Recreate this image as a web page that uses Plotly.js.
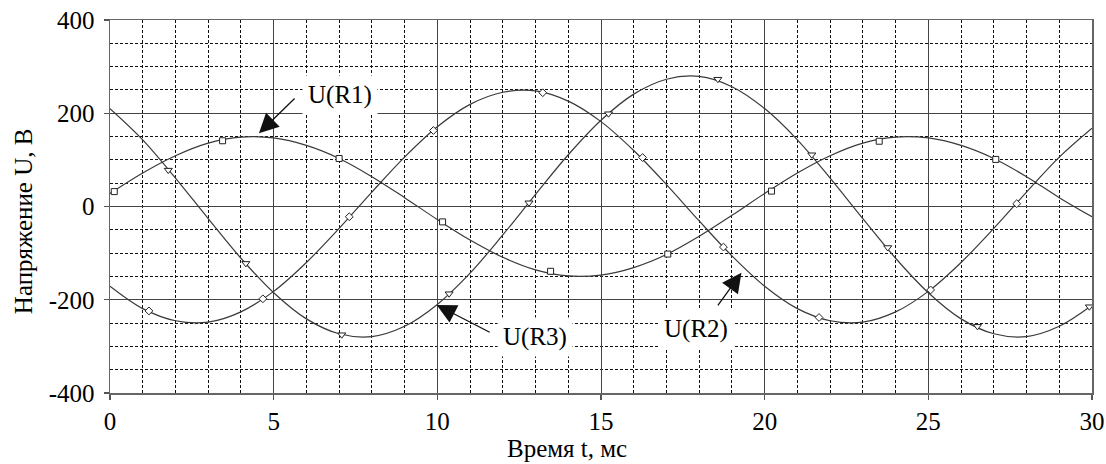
<!DOCTYPE html>
<html>
<head>
<meta charset="utf-8">
<script src="https://cdn.plot.ly/plotly-3.0.1.min.js"></script>
<style>
  html, body { margin: 0; padding: 0; background: #fff; }
  #chart { width: 1106px; height: 464px; }
</style>
</head>
<body>
<div id="chart"></div>
<script>
// time axis, ms
const timeMs = [0,1,2,3,4,5,6,7,8,9,10,11,12,13,14,15,16,17,18,19,20,21,22,23,24,25,26,27,28,29,30];

// U(R1), V (amplitude ~150)
const uR1 = [28,72,109,136,149,147,131,103,64,19,-28,-72,-109,-136,-149,-147,-131,-103,-64,-19,28,72,109,136,149,147,131,103,64,19,-22];
// U(R2), V (amplitude ~250)
const uR2 = [-171,-219,-245,-248,-226,-182,-120,-47,31,106,171,219,245,248,226,182,120,47,-31,-106,-171,-219,-245,-248,-226,-182,-120,-47,31,106,168];
// U(R3), V (amplitude ~280)
const uR3 = [210,143,61,-26,-111,-185,-241,-273,-279,-257,-210,-143,-61,26,111,185,241,273,279,257,210,143,61,-26,-111,-185,-241,-273,-279,-257,-212];

// marker positions along each curve
const mR1x = [0.13,3.44,7.0,10.16,13.46,17.04,20.21,23.5,27.06];
const mR1y = [32,141,103,-33,-139,-102,33,140,101];
const mR2x = [1.19,4.67,7.31,9.88,13.22,16.27,18.74,21.66,25.07,27.7];
const mR2y = [-224,-198,-22,163,244,105,-87,-238,-179,6];
const mR3x = [1.78,4.15,7.08,10.36,12.8,15.23,18.57,21.44,23.76,26.5,29.92];
const mR3y = [78,-122,-275,-187,8,199,273,111,-88,-257,-215];

// tick labels
const xTickVals = [0,5,10,15,20,25,30];
const xTickText = ['0','5','10','15','20','25','30'];
const yTickVals = [-400,-200,0,200,400];
const yTickText = ['-400','-200','0','200','400'];

// labels
const seriesNames = ['U(R1)','U(R2)','U(R3)'];
const xTitle = 'Время t, мс';
const yTitle = 'Напряжение U, В';

const lineColor = '#3a3a3a';
const fontFam = 'Liberation Serif';
const fs = 25;

function lineTrace(y, name) {
  return { x: timeMs, y: y, name: name, mode: 'lines', type: 'scatter',
    line: { color: lineColor, width: 1.2, shape: 'spline', smoothing: 1 }, hoverinfo: 'skip' };
}
function markerTrace(x, y, sym, size, name) {
  return { x: x, y: y, name: name, mode: 'markers', type: 'scatter',
    marker: { symbol: sym, size: size, color: '#ffffff', line: { color: '#222', width: 1 } }, hoverinfo: 'skip' };
}

const traces = [
  lineTrace(uR1, seriesNames[0]),
  lineTrace(uR2, seriesNames[1]),
  lineTrace(uR3, seriesNames[2]),
  markerTrace(mR1x, mR1y, 'square', 6, seriesNames[0]),
  markerTrace(mR2x, mR2y, 'diamond', 6, seriesNames[1]),
  markerTrace(mR3x, mR3y, 'triangle-down', 7, seriesNames[2])
];

function arrow(x, y, ax, ay) {
  return { x: x, y: y, ax: ax, ay: ay, xref: 'x', yref: 'y', axref: 'x', ayref: 'y',
    showarrow: true, arrowhead: 2, arrowsize: 3, arrowwidth: 1.3, arrowcolor: '#111',
    standoff: 0, startstandoff: 0, borderpad: 0, font: { family: fontFam, size: 10 } };
}
function label(x, y, text) {
  return { x: x, y: y, xref: 'x', yref: 'y', text: text, showarrow: false,
    bgcolor: '#ffffff', borderpad: 5, font: { family: fontFam, size: fs } };
}

const layout = {
  width: 1106, height: 464,
  margin: { l: 110, r: 14, t: 20, b: 71, pad: 0 },
  paper_bgcolor: '#ffffff', plot_bgcolor: '#ffffff',
  showlegend: false,
  font: { family: fontFam, size: fs, color: '#000000' },
  xaxis: {
    range: [0, 30], tickmode: 'array', tickvals: xTickVals, ticktext: xTickText,
    showgrid: true, gridcolor: '#444', gridwidth: 1, zeroline: false,
    showline: true, linecolor: '#666', linewidth: 1.5, mirror: true,
    ticks: 'outside', ticklen: 5, tickwidth: 1.2, tickcolor: '#555',
    ticklabelstandoff: 0,
    minor: { tickmode: 'linear', tick0: 0, dtick: 1, showgrid: true, gridcolor: '#111', gridwidth: 1, griddash: '3px,2px', ticks: '' }
  },
  yaxis: {
    range: [-400, 400], tickmode: 'array', tickvals: yTickVals, ticktext: yTickText,
    showgrid: true, gridcolor: '#444', gridwidth: 1, zeroline: false,
    showline: true, linecolor: '#666', linewidth: 1.5, mirror: true,
    ticks: 'outside', ticklen: 5, tickwidth: 1.2, tickcolor: '#555',
    ticklabelstandoff: 4,
    minor: { tickmode: 'linear', tick0: 0, dtick: 50, showgrid: true, gridcolor: '#111', gridwidth: 1, griddash: '3px,2px', ticks: '' }
  },
  annotations: [
    label(7.03, 240, seriesNames[0]),
    label(12.97, -280, seriesNames[2]),
    label(17.9, -262, seriesNames[1]),
    arrow(4.55, 157, 5.70, 236),
    arrow(9.98, -211, 11.66, -272),
    arrow(19.29, -142, 18.51, -218),
    { xref: 'paper', yref: 'paper', x: 0.465, y: -0.19, xanchor: 'center', yanchor: 'bottom',
      text: xTitle, showarrow: false, font: { family: fontFam, size: fs } },
    { xref: 'paper', yref: 'paper', x: -0.0886, y: 0.4607, xanchor: 'center', yanchor: 'middle',
      textangle: -90, text: yTitle, showarrow: false, font: { family: fontFam, size: fs } }
  ]
};

Plotly.newPlot('chart', traces, layout, { displayModeBar: false, staticPlot: true });
</script>
</body>
</html>
